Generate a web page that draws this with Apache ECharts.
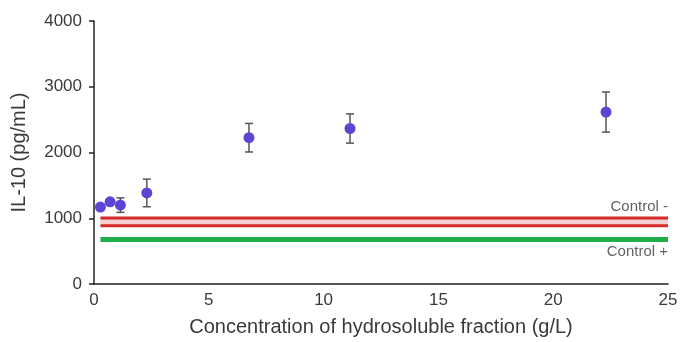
<!DOCTYPE html>
<html><head><meta charset="utf-8">
<script src="https://cdn.jsdelivr.net/npm/echarts@6/dist/echarts.min.js"></script>
<style>html,body{margin:0;padding:0;background:#fff}#c{width:695px;height:342px}</style>
</head><body><div id="c"></div>
<script>
const concentrations = [0.28, 0.7, 1.15, 2.3, 6.75, 11.15, 22.3];
const il10 = [1170, 1250, 1200, 1385, 2225, 2365, 2615];
const errors = [30, 40, 110, 210, 217, 222, 305];
const controlNegHigh = 1005;
const controlNegLow = 886;
const controlPos = 678;
const controlRange = [0.28, 25];
const xTicks = [0, 5, 10, 15, 20, 25];
const yTicks = [0, 1000, 2000, 3000, 4000];

const font = '"Liberation Sans", Arial, sans-serif';
const chart = echarts.init(document.getElementById('c'));
const pts = concentrations.map((x, i) => [x, il10[i], errors[i]]);
chart.setOption({
  animation: false,
  grid: {left: 94, right: 27, top: 21, bottom: 58},
  xAxis: {
    type: 'value', min: xTicks[0], max: xTicks[xTicks.length-1], interval: 5,
    name: 'Concentration of hydrosoluble fraction (g/L)', nameLocation: 'middle', nameGap: 33,
    nameTextStyle: {fontFamily: font, fontSize: 20, color: '#3a3a3a'},
    axisLine: {lineStyle: {color: '#222', width: 1.5}},
    axisTick: {show: false},
    axisLabel: {fontFamily: font, fontSize: 17, color: '#3a3a3a', margin: 8},
    splitLine: {show: false}
  },
  yAxis: {
    type: 'value', min: yTicks[0], max: yTicks[yTicks.length-1], interval: 1000,
    name: 'IL-10 (pg/mL)', nameLocation: 'middle', nameGap: 65, nameRotate: 90,
    nameTextStyle: {fontFamily: font, fontSize: 20, color: '#3a3a3a'},
    axisLine: {show: true, lineStyle: {color: '#222', width: 1.5}},
    axisTick: {show: true, length: 5, lineStyle: {color: '#222', width: 1.5}},
    axisLabel: {fontFamily: font, fontSize: 17, color: '#3a3a3a', margin: 12, formatter: v => String(v)},
    splitLine: {show: false}
  },
  series: [
    {
      type: 'line', symbol: 'none', z: 2,
      data: [[controlRange[0], controlNegHigh], [controlRange[1], controlNegHigh]],
      lineStyle: {color: '#d42a2a', width: 3},
      markArea: {silent: true, itemStyle: {color: '#f6d0d0'},
        data: [[{coord: [controlRange[0], controlNegLow]}, {coord: [controlRange[1], controlNegHigh]}]]}
    },
    {
      type: 'line', symbol: 'none', z: 2,
      data: [[controlRange[0], controlNegLow], [controlRange[1], controlNegLow]],
      lineStyle: {color: '#d42a2a', width: 3}
    },
    {
      type: 'line', symbol: 'none', z: 2,
      data: [[controlRange[0], controlPos], [controlRange[1], controlPos]],
      lineStyle: {color: '#1fae4b', width: 5}
    },
    {
      type: 'scatter', symbolSize: 0, z: 1, silent: true,
      data: [{value: [controlRange[1], controlNegHigh], label: {show: true, position: 'top', align: 'right', distance: 4, formatter: 'Control -'}},
             {value: [controlRange[1], controlPos], label: {show: true, position: 'bottom', align: 'right', distance: 5, formatter: 'Control +'}}],
      label: {fontFamily: font, fontSize: 15, color: '#3a3a3a'}
    },
    {
      type: 'custom', z: 3,
      renderItem: function (params, api) {
        const x = api.value(0), y = api.value(1), e = api.value(2);
        const top = api.coord([x, y + e]);
        const bot = api.coord([x, y - e]);
        const w = 4;
        const st = {stroke: '#555', lineWidth: 1.5};
        return {type: 'group', children: [
          {type: 'line', shape: {x1: top[0], y1: top[1], x2: bot[0], y2: bot[1]}, style: st},
          {type: 'line', shape: {x1: top[0]-w, y1: top[1], x2: top[0]+w, y2: top[1]}, style: st},
          {type: 'line', shape: {x1: bot[0]-w, y1: bot[1], x2: bot[0]+w, y2: bot[1]}, style: st}
        ]};
      },
      data: pts
    },
    {
      type: 'scatter', z: 4, symbol: 'circle', symbolSize: 11,
      itemStyle: {color: '#5a46d2', opacity: 1},
      data: pts.map(p => [p[0], p[1]])
    }
  ]
});
</script></body></html>
